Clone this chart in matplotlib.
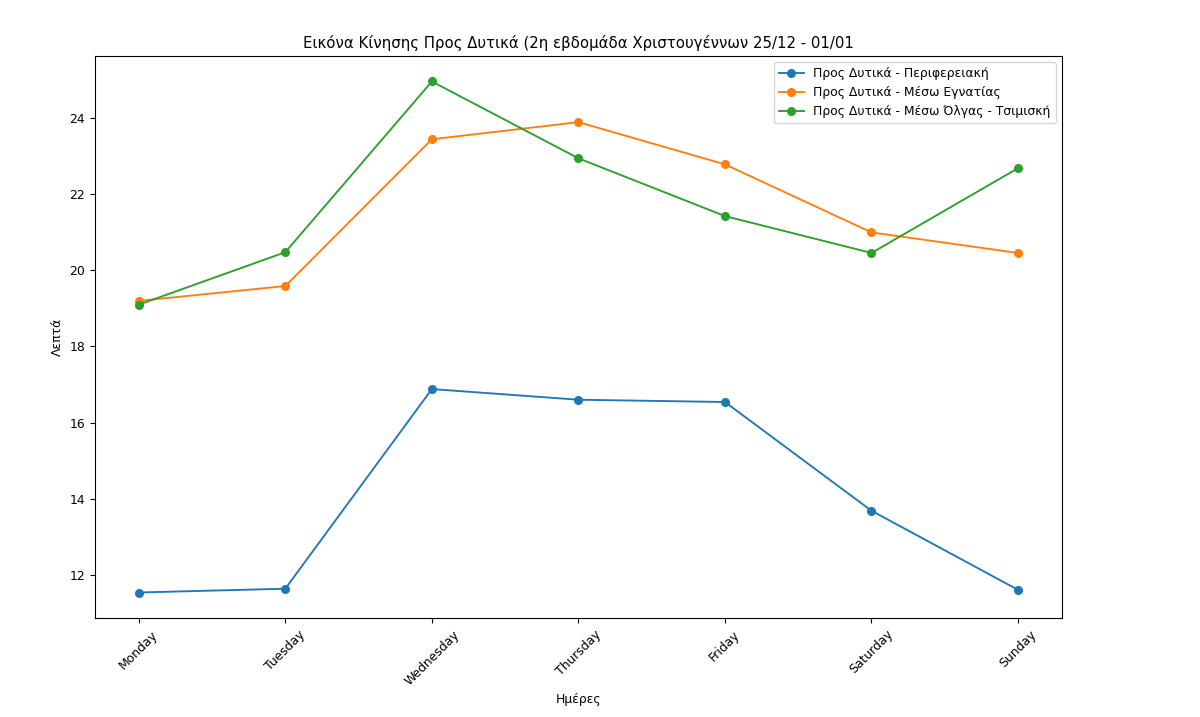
import matplotlib
matplotlib.use('Agg')
import matplotlib.pyplot as plt

# Дни недели и время в минутах
days = ['Monday', 'Tuesday', 'Wednesday', 'Thursday', 'Friday', 'Saturday', 'Sunday']
perifereiaki = [11.53, 11.63, 16.88, 16.60, 16.54, 13.68, 11.60]
egnatias = [19.20, 19.59, 23.45, 23.90, 22.79, 21.00, 20.46]
tsimiski = [19.10, 20.48, 24.97, 22.95, 21.43, 20.46, 22.69]

labels = [
    'Προς Δυτικά - Περιφερειακή',
    'Προς Δυτικά - Μέσω Εγνατίας',
    'Προς Δυτικά - Μέσω Όλγας - Τσιμισκή',
]

# картинка в оригинале чуть уменьшена
plt.rcParams['font.size'] = 8.9
plt.rcParams['lines.linewidth'] = 1.35
plt.rcParams['lines.markersize'] = 5.5

fig, ax = plt.subplots(figsize=(12, 7.17), dpi=100)
fig.subplots_adjust(left=0.079, right=0.885, top=0.922, bottom=0.138)

ax.plot(days, perifereiaki, marker='o', label=labels[0])
ax.plot(days, egnatias, marker='o', label=labels[1])
ax.plot(days, tsimiski, marker='o', label=labels[2])

ax.set_title('Εικόνα Κίνησης Προς Δυτικά (2η εβδομάδα Χριστουγέννων 25/12 - 01/01')
ax.set_xlabel('Ημέρες')
ax.set_ylabel('Λεπτά')
plt.setp(ax.get_xticklabels(), rotation=45)
ax.legend(loc='upper right')

plt.savefig('out.png')
